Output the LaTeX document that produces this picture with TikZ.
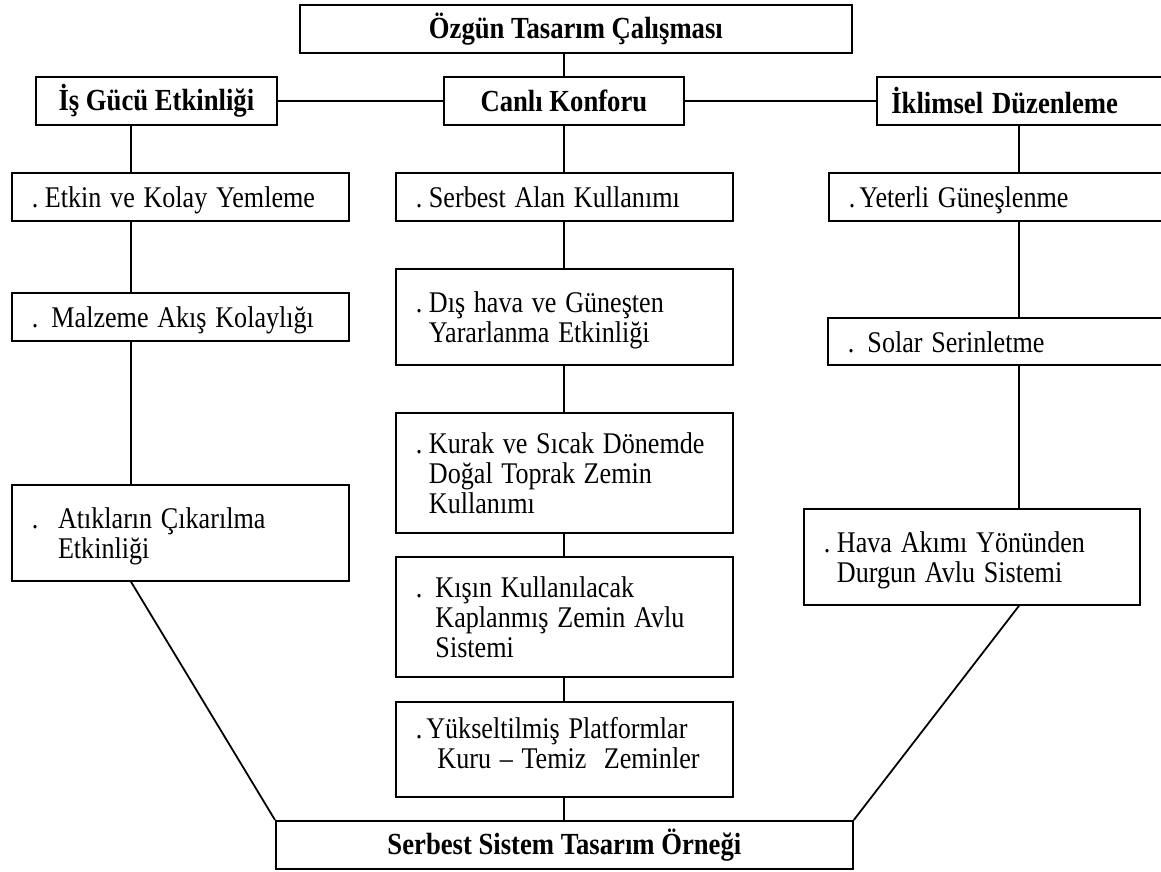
\documentclass[tikz,border=0pt]{standalone}
\usepackage{graphicx}
\usepackage{fontspec}
\setmainfont{Liberation Serif}
\usetikzlibrary{positioning}
\setlength{\parindent}{0pt}
% the printed text is a little taller than wide
\newcommand{\hd}[1]{\scalebox{1}[1.15]{#1}}
% dot, then the lines of one entry
\newcommand{\bul}[2][0.25em]{\raisebox{0pt}[\dimexpr\height+4.5pt\relax][\depth]{%
  \hd{.\hspace{#1}\begin{tabular}[t]{@{}l@{}}#2\end{tabular}}}}

\begin{document}
\begin{tikzpicture}[x=0.45pt, y=-0.45pt, line width=0.8pt,
  head/.style={draw, anchor=north west, inner sep=0pt, minimum height=21.6pt,
    font=\fontsize{12}{12}\selectfont\bfseries},
  item/.style={draw, anchor=north west, inner xsep=9pt, inner ysep=0pt,
    text width=133.65pt, align=left, minimum height=21.6pt,
    font=\fontsize{11.75}{11.75}\selectfont}]
  \useasboundingbox (0,0) rectangle (1161,871);
  \clip (0,0) rectangle (1161,871);

  % headers
  \node[head, minimum width=248.4pt] (top) at (299,4) {\hd{Özgün Tasarım Çalışması}};
  \node[head, minimum width=108.45pt] (isgucu) at (35,76) {\hd{İş Gücü Etkinliği}};
  \node[head, minimum width=108pt] (canli) at (443,76) {\hd{Canlı Konforu}};
  \node[head, align=left, text width=130pt, inner xsep=6.5pt] (iklim) at (876,76) {\hd{İklimsel Düzenleme}};
  \node[head, minimum width=259.65pt] (bottom) at (275,820) {\hd{Serbest Sistem Tasarım Örneği}};

  % left column
  \node[item] (etkin) at (11,172) {\bul{Etkin ve Kolay Yemleme}};
  \node[item] (malzeme) at (11,292) {\bul[0.5em]{Malzeme Akış Kolaylığı}};
  \node[item, minimum height=43.2pt] (atik) at (11,484)
    {\bul[0.75em]{Atıkların Çıkarılma\\Etkinliği}};

  % middle column
  \node[item] (serbest) at (395,172) {\bul{Serbest Alan Kullanımı}};
  \node[item, minimum height=43.2pt] (dishava) at (395,268)
    {\bul{Dış hava ve Güneşten\\Yararlanma Etkinliği}};
  \node[item, minimum height=54pt] (kurak) at (395,412)
    {\bul{Kurak ve Sıcak Dönemde\\Doğal Toprak Zemin\\Kullanımı}};
  \node[item, minimum height=54pt] (kisin) at (395,556)
    {\bul[0.5em]{Kışın Kullanılacak\\Kaplanmış Zemin Avlu\\Sistemi}};
  \node[item, minimum height=42.75pt] (yuksel) at (395,701)
    {\bul[0.15em]{Yükseltilmiş Platformlar\\\hspace{5pt}Kuru – Temiz~~Zeminler\\[-6pt]\mbox{}}};

  % right column
  \node[item, text width=142.65pt] (yeterli) at (828,172) {\bul[0.15em]{Yeterli Güneşlenme}};
  \node[item, text width=143pt, minimum height=21.15pt] (solar) at (827,317)
    {\bul[0.5em]{Solar Serinletme}};
  \node[item, text width=133.2pt, minimum height=43.2pt] (hava) at (803,508)
    {\bul{Hava Akımı Yönünden\\Durgun Avlu Sistemi}};

  \coordinate (colA) at (131,0);
  \coordinate (colC) at (1019,0);

  \draw (canli.north) -- (canli.north |- top.south);
  \draw (isgucu) -- (canli) -- (iklim);
  \foreach \a/\b in {isgucu/etkin, etkin/malzeme, malzeme/atik}
    \draw (\a.south -| colA) -- (\b.north -| colA);
  \foreach \a/\b in {canli/serbest, serbest/dishava, dishava/kurak,
                     kurak/kisin, kisin/yuksel, yuksel/bottom}
    \draw (\a.south -| canli) -- (\b.north -| canli);
  \foreach \a/\b in {iklim/yeterli, yeterli/solar, solar/hava}
    \draw (\a.south -| colC) -- (\b.north -| colC);
  \draw (atik.south -| colA) -- (bottom.north west);
  \draw (hava.south -| colC) -- (bottom.north east);
\end{tikzpicture}
\end{document}
